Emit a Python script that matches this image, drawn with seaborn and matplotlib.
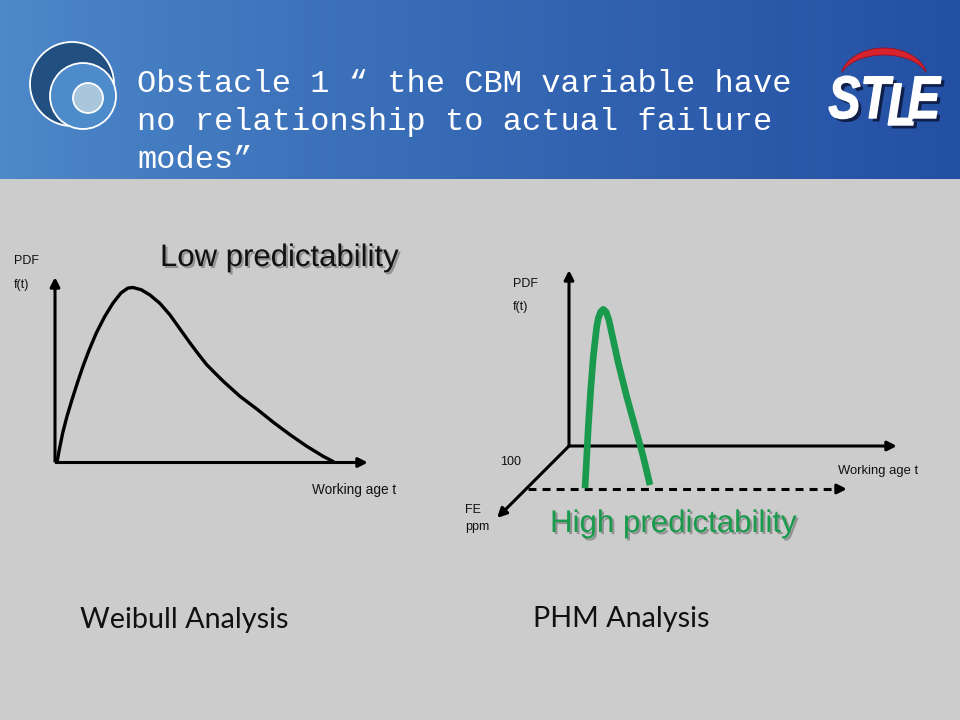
import numpy as np
import pandas as pd
import seaborn as sns
import matplotlib
matplotlib.use("Agg")
import matplotlib.pyplot as plt
from matplotlib import patheffects as pe
from matplotlib.patches import Circle, Polygon, PathPatch
from matplotlib.textpath import TextPath
from matplotlib.font_manager import FontProperties
from matplotlib.transforms import Affine2D

# ---------------- data ----------------
title_lines = ["Obstacle 1 \u201c the CBM variable have",
               "no relationship to actual failure",
               "modes\u201d"]

# Weibull PDF (left chart): working age t vs f(t)
weib_t = [0.07, 0.156, 0.280, 0.436, 0.618, 0.811, 1.018, 1.247, 1.502, 1.807,
          2.109, 2.400, 2.655, 2.836, 3.138, 3.455, 3.818, 4.182, 4.545,
          4.909, 5.21, 5.516, 5.818, 6.120, 6.727, 7.335, 7.938, 8.545,
          9.153, 9.756, 10.12]
weib_f = [0.0, 0.073, 0.169, 0.264, 0.359, 0.454, 0.550, 0.645, 0.740, 0.834,
          0.911, 0.969, 0.997, 1.0, 0.987, 0.957, 0.909, 0.843, 0.763,
          0.683, 0.62, 0.559, 0.511, 0.464, 0.378, 0.306, 0.230, 0.159,
          0.093, 0.035, 0.005]

# PHM PDF (right chart, front plane)
phm_t = [1.90, 1.957, 2.01, 2.09, 2.177, 2.29, 2.343, 2.423, 2.51, 2.60,
         2.69, 2.79, 3.01, 3.29, 3.567, 3.843, 4.067]
phm_f = [0.004, 0.179, 0.346, 0.55, 0.735, 0.902, 0.948, 0.985, 0.998,
         0.985, 0.943, 0.867, 0.70, 0.513, 0.346, 0.179, 0.022]

left_labels = {"y1": "PDF", "y2": "f(t)", "x": "Working age t"}
right_labels = {"y1": "PDF", "y2": "f(t)", "x": "Working age t",
                "z1": "FE", "z2": "ppm", "tick": "100"}
captions = ["Weibull Analysis", "PHM Analysis"]
notes = ["Low predictability", "High predictability"]
logo_parts = [("ST", 0), ("L", 7), ("E", 0)]

GREEN = "#1a9a4c"
W, H = 960, 720

sns.set_theme(style="white")
plt.rcParams["font.family"] = ["Liberation Sans", "DejaVu Sans"]

fig = plt.figure(figsize=(9.6, 7.2), dpi=100)
fig.patch.set_facecolor("#cccccd")

bg = fig.add_axes([0, 0, 1, 1])
bg.set_xlim(0, W)
bg.set_ylim(H, 0)
bg.axis("off")

# header gradient
g = np.linspace(0, 1, 512)
c0 = np.array([78, 138, 202]) / 255
c1 = np.array([36, 80, 164]) / 255
grad = (c0[None, :] * (1 - g[:, None] ** 0.8) + c1[None, :] * g[:, None] ** 0.8)[None, :, :]
bg.imshow(grad, extent=(0, W, 179, 0), aspect="auto", zorder=0)

# logo circles
bg.add_patch(Circle((72, 84), 42, facecolor="#214f80", edgecolor="white", lw=1.3, zorder=2))
bg.add_patch(Circle((83, 96), 33, facecolor="#4d8bca", edgecolor="white", lw=1.3, zorder=3))
bg.add_patch(Circle((88, 98), 15, facecolor="#a9c6dd", edgecolor="white", lw=1.3, zorder=4))

# title
for i, line in enumerate(title_lines):
    bg.text(137, 92 + 38 * i, line, color="white", fontsize=23.0,
            family="Liberation Mono", va="baseline", ha="left", zorder=5)

# STLE logo: red swoosh
th = np.linspace(np.radians(18), np.radians(162), 60)
outer = np.c_[884 + 44 * np.cos(th), 80 - 32 * np.sin(th)]
inner = np.c_[884 + 44 * np.cos(th[::-1]), 80 - 25 * np.sin(th[::-1])]
bg.add_patch(Polygon(np.r_[outer, inner], closed=True, facecolor="#d8222e",
                     edgecolor="#9a1020", lw=0.6, zorder=5))
# STLE letters (condensed bold italic)
fp = FontProperties(family="Liberation Sans", weight="bold", style="italic")
sx, sy = 0.8, 1.0
size = 60
xpos = 829.0
for txt, dy in logo_parts:
    tp = TextPath((0, 0), txt, size=size, prop=fp)
    ext = tp.get_extents()
    tr = Affine2D().translate(-ext.x0, 0).scale(sx, -sy).translate(xpos, 118 + dy)
    path = tr.transform_path(tp)
    bg.add_patch(PathPatch(path, facecolor="white", edgecolor="white", lw=1.0,
                           zorder=6,
                           path_effects=[pe.withSimplePatchShadow(offset=(2.5, -2.5),
                                                                   shadow_rgbFace="#0d1a40",
                                                                   alpha=0.9)]))
    xpos += (ext.x1 - ext.x0) * sx - 5

shadow = [pe.withSimplePatchShadow(offset=(1.5, -1.5), shadow_rgbFace="#7a7a7a", alpha=0.7)]

# ---------------- left chart ----------------
def px_axes(x0, x1, ytop, ybot):
    return fig.add_axes([x0 / W, 1 - ybot / H, (x1 - x0) / W, (ybot - ytop) / H])

L_SX, L_SY = 27.5, 175.0   # px per unit
L_X0, L_Y0 = 55, 462.5     # origin in px
axL = px_axes(L_X0, 380, 270, L_Y0)
axL.set_xlim(0, (380 - L_X0) / L_SX)
axL.set_ylim(0, (L_Y0 - 270) / L_SY)
axL.axis("off")
axL.patch.set_alpha(0)

dfL = pd.DataFrame({"t": weib_t, "f": weib_f})
sns.lineplot(data=dfL, x="t", y="f", ax=axL, color="black", lw=2.4,
             sort=False, estimator=None, clip_on=False,
             solid_joinstyle="round", solid_capstyle="round")
arrow_kw = dict(arrowstyle="-|>", lw=2.2, color="black", mutation_scale=14,
                shrinkA=0, shrinkB=0, capstyle="butt")
axL.annotate("", xy=((368 - L_X0) / L_SX, 0), xytext=(0, 0), arrowprops=arrow_kw,
             annotation_clip=False)
axL.annotate("", xy=(0, (L_Y0 - 277) / L_SY), xytext=(0, 0), arrowprops=arrow_kw,
             annotation_clip=False)

lab = dict(fontsize=9, color="#111111", va="center", ha="left")
bg.text(14, 261, left_labels["y1"], **lab)
bg.text(14, 285, left_labels["y2"], **lab)
bg.text(312, 490, left_labels["x"], **{**lab, "fontsize": 9.8})
bg.text(160, 266, notes[0], fontsize=22.4, color="#111111", ha="left",
        va="baseline", path_effects=shadow)

# ---------------- right chart ----------------
R_SX, R_SY = 30.0, 180.0
R_X0, R_Y0 = 528, 489      # front-plane origin px
axR = px_axes(490, 910, 262, 530)
axR.set_xlim((490 - R_X0) / R_SX, (910 - R_X0) / R_SX)
axR.set_ylim((R_Y0 - 530) / R_SY, (R_Y0 - 262) / R_SY)
axR.axis("off")
axR.patch.set_alpha(0)

back_o = ((569 - R_X0) / R_SX, (R_Y0 - 446) / R_SY)
y_top = (R_Y0 - 270) / R_SY
x_end = (897 - R_X0) / R_SX
z_end = ((497 - R_X0) / R_SX, (R_Y0 - 518) / R_SY)
dash_end = (847 - R_X0) / R_SX

axR.annotate("", xy=(back_o[0], y_top), xytext=back_o, arrowprops=arrow_kw,
             annotation_clip=False)
axR.annotate("", xy=(x_end, back_o[1]), xytext=back_o, arrowprops=arrow_kw,
             annotation_clip=False)
axR.annotate("", xy=z_end, xytext=back_o, arrowprops=arrow_kw,
             annotation_clip=False)
axR.plot([0, dash_end - 0.2], [0, 0], color="black", lw=2.2,
         linestyle=(0, (2.6, 2.0)), clip_on=False)
axR.annotate("", xy=(dash_end, 0), xytext=(dash_end - 0.25, 0), arrowprops=arrow_kw,
             annotation_clip=False)

dfR = pd.DataFrame({"t": phm_t, "f": phm_f})
sns.lineplot(data=dfR, x="t", y="f", ax=axR, color=GREEN, lw=4.8,
             sort=False, estimator=None, clip_on=False, zorder=5,
             solid_joinstyle="round", solid_capstyle="butt")

bg.text(513, 284, right_labels["y1"], **lab)
bg.text(513, 307, right_labels["y2"], **lab)
bg.text(500, 462, right_labels["tick"], **lab)
bg.text(838, 471, right_labels["x"], **{**lab, "fontsize": 9.4})
bg.text(465, 510, right_labels["z1"], **lab)
bg.text(465, 527, right_labels["z2"], **lab)
bg.text(550, 532, notes[1], fontsize=22.5, color=GREEN, ha="left",
        va="baseline", path_effects=shadow)

cap = dict(fontsize=20.7, color="#111111", va="center", ha="left",
           family=["Lato", "DejaVu Sans"])
bg.text(80, 620, captions[0], **cap)
bg.text(533, 619, captions[1], **cap)

fig.savefig("out.png", dpi=100, facecolor=fig.get_facecolor())
